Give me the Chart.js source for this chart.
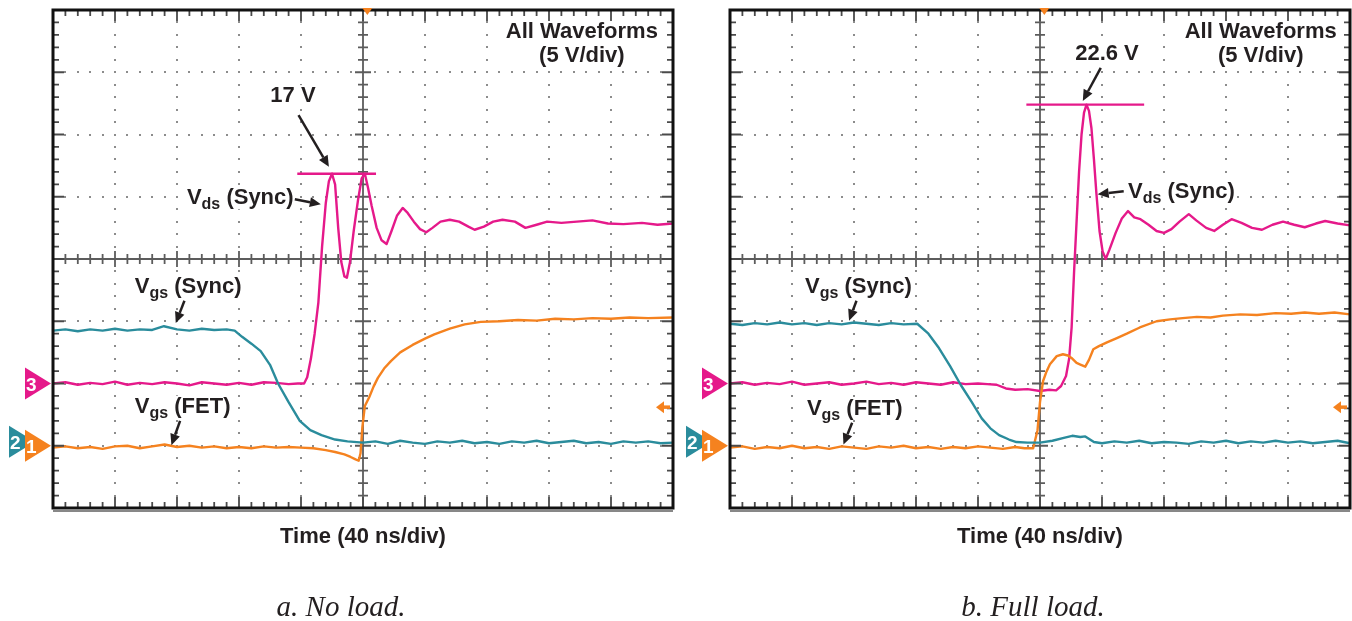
<!DOCTYPE html>
<html>
<head>
<meta charset="utf-8">
<script src="https://cdn.jsdelivr.net/npm/chart.js@4.4.1/dist/chart.umd.min.js"></script>
<style>
  body { margin: 0; background: #fff; width: 1352px; height: 621px; position: relative; overflow: hidden; }
  canvas { position: absolute; top: 0; }
  #noLoad { left: 0; }
  #fullLoad { left: 676px; }
  .cap { position: absolute; top: 592px; line-height: 29px; font-family: "Liberation Serif", serif;
         font-style: italic; font-size: 29px; color: #231f20; transform: translateX(-50%); white-space: nowrap; }
</style>
</head>
<body>
<canvas id="noLoad" width="676" height="621"></canvas>
<canvas id="fullLoad" width="676" height="621"></canvas>
<div class="cap" style="left:341px">a. No load.</div>
<div class="cap" style="left:1033px">b. Full load.</div>
<script>
// all values in scope divisions: time -5..5 (40 ns/div), volts -4..4 (5 V/div)

// a. no load
var noLoadVdsT = [-5, -4.8, -4.6, -4.4, -4.2, -4.0, -3.8, -3.6, -3.4, -3.2, -3.0, -2.8, -2.6, -2.4, -2.2, -2.0, -1.8, -1.6, -1.4, -1.2, -1.05, -0.95, -0.9, -0.84, -0.78, -0.72, -0.66, -0.6, -0.55, -0.5, -0.45, -0.4, -0.35, -0.3, -0.26, -0.21, -0.15, -0.08, -0.02, 0.03, 0.08, 0.14, 0.22, 0.3, 0.38, 0.46, 0.55, 0.64, 0.72, 0.82, 0.92, 1.02, 1.12, 1.25, 1.4, 1.55, 1.7, 1.8, 1.95, 2.1, 2.25, 2.45, 2.62, 2.8, 2.97, 3.2, 3.45, 3.7, 3.95, 4.2, 4.5, 4.75, 5];
var noLoadVdsV = [-2.0, -1.98, -2.02, -1.99, -2.01, -1.97, -2.02, -1.99, -2.01, -1.98, -2.0, -2.03, -1.98, -2.0, -2.02, -1.99, -2.02, -1.98, -1.99, -2.01, -2.0, -2.0, -1.9, -1.6, -1.2, -0.7, 0.2, 0.9, 1.25, 1.37, 1.2, 0.5, -0.05, -0.28, -0.3, -0.05, 0.45, 0.95, 1.3, 1.37, 1.15, 0.85, 0.5, 0.3, 0.24, 0.45, 0.7, 0.82, 0.74, 0.6, 0.48, 0.43, 0.5, 0.6, 0.63, 0.6, 0.52, 0.47, 0.52, 0.6, 0.63, 0.6, 0.5, 0.55, 0.6, 0.58, 0.6, 0.62, 0.57, 0.56, 0.58, 0.55, 0.57];

var noLoadSyncT = [-5, -4.8, -4.6, -4.4, -4.2, -4.0, -3.8, -3.6, -3.4, -3.21, -3.0, -2.8, -2.6, -2.4, -2.2, -2.07, -1.95, -1.8, -1.65, -1.5, -1.37, -1.2, -1.02, -0.85, -0.67, -0.45, -0.25, 0, 0.2, 0.4, 0.6, 0.8, 1.0, 1.2, 1.4, 1.6, 1.8, 2.0, 2.2, 2.4, 2.6, 2.8, 3.0, 3.2, 3.4, 3.6, 3.8, 4.0, 4.2, 4.4, 4.6, 4.8, 5];
var noLoadSyncV = [-1.15, -1.13, -1.16, -1.13, -1.15, -1.12, -1.15, -1.13, -1.14, -1.08, -1.13, -1.15, -1.12, -1.14, -1.13, -1.15, -1.25, -1.36, -1.48, -1.7, -2.0, -2.3, -2.6, -2.75, -2.83, -2.9, -2.93, -2.95, -2.93, -2.97, -2.92, -2.95, -2.97, -2.93, -2.95, -2.92, -2.96, -2.94, -2.97, -2.93, -2.95, -2.92, -2.96, -2.94, -2.92, -2.96, -2.94, -2.97, -2.93, -2.95, -2.93, -2.96, -2.95];

var noLoadFetT = [-5, -4.8, -4.6, -4.4, -4.2, -4.0, -3.8, -3.6, -3.4, -3.2, -3.0, -2.8, -2.6, -2.4, -2.2, -2.0, -1.8, -1.6, -1.4, -1.2, -1.0, -0.8, -0.6, -0.45, -0.3, -0.2, -0.12, -0.07, -0.04, -0.01, 0.03, 0.1, 0.17, 0.24, 0.34, 0.45, 0.6, 0.8, 1.0, 1.15, 1.4, 1.64, 1.9, 2.2, 2.5, 2.8, 3.1, 3.4, 3.7, 4.0, 4.3, 4.6, 5];
var noLoadFetV = [-3.03, -3.01, -3.04, -3.02, -3.05, -3.01, -3.0, -3.04, -3.01, -2.98, -3.02, -3.0, -3.03, -3.01, -3.04, -3.02, -3.04, -3.01, -3.03, -3.02, -3.03, -3.04, -3.07, -3.1, -3.14, -3.18, -3.22, -3.24, -3.12, -2.7, -2.36, -2.22, -2.05, -1.91, -1.76, -1.64, -1.5, -1.38, -1.28, -1.21, -1.12, -1.05, -1.01, -1.0, -0.98, -0.99, -0.96, -0.97, -0.95, -0.96, -0.94, -0.95, -0.94];

var noLoadPeakT = [-1.06, 0.21];
var noLoadPeakV = [1.37, 1.37];

// b. full load
var fullLoadVdsT = [-5, -4.8, -4.6, -4.4, -4.2, -4.0, -3.8, -3.6, -3.4, -3.2, -3.0, -2.8, -2.6, -2.4, -2.2, -2.0, -1.8, -1.6, -1.4, -1.2, -1.0, -0.85, -0.7, -0.55, -0.4, -0.2, 0.0, 0.15, 0.26, 0.34, 0.42, 0.47, 0.51, 0.55, 0.59, 0.63, 0.67, 0.71, 0.75, 0.79, 0.83, 0.87, 0.91, 0.96, 1.01, 1.06, 1.12, 1.22, 1.32, 1.42, 1.52, 1.62, 1.75, 1.88, 2.0, 2.12, 2.25, 2.4, 2.52, 2.68, 2.81, 2.95, 3.09, 3.25, 3.42, 3.58, 3.75, 3.92, 4.1, 4.27, 4.45, 4.6, 4.8, 5];
var fullLoadVdsV = [-2.0, -1.98, -2.02, -1.99, -2.01, -1.97, -2.02, -2.0, -1.98, -2.02, -2.0, -1.97, -2.01, -1.99, -2.02, -1.98, -2.0, -2.02, -1.98, -2.01, -2.0, -2.01, -2.02, -2.08, -2.1, -2.09, -2.12, -2.1, -2.11, -2.04, -1.88, -1.6, -1.1, -0.2, 0.6, 1.4, 2.0, 2.35, 2.48, 2.38, 2.1, 1.6, 1.05, 0.45, 0.12, 0.0, 0.15, 0.42, 0.65, 0.77, 0.67, 0.64, 0.55, 0.45, 0.42, 0.48, 0.6, 0.72, 0.62, 0.5, 0.45, 0.55, 0.64, 0.58, 0.5, 0.47, 0.55, 0.6, 0.55, 0.51, 0.57, 0.61, 0.57, 0.54];

var fullLoadSyncT = [-5, -4.8, -4.6, -4.4, -4.2, -4.0, -3.8, -3.6, -3.4, -3.2, -3.0, -2.8, -2.6, -2.4, -2.2, -1.98, -1.8, -1.63, -1.45, -1.28, -1.1, -0.94, -0.8, -0.66, -0.5, -0.38, -0.2, 0.0, 0.2, 0.4, 0.52, 0.65, 0.73, 0.87, 1.0, 1.2, 1.4, 1.6, 1.8, 2.0, 2.2, 2.4, 2.6, 2.8, 3.0, 3.2, 3.4, 3.6, 3.8, 4.0, 4.2, 4.4, 4.6, 4.8, 5];
var fullLoadSyncV = [-1.04, -1.06, -1.03, -1.05, -1.02, -1.05, -1.03, -1.06, -1.03, -1.05, -1.02, -1.04, -1.06, -1.03, -1.05, -1.04, -1.2, -1.43, -1.72, -2.02, -2.3, -2.56, -2.72, -2.83, -2.9, -2.94, -2.95, -2.95, -2.92, -2.87, -2.84, -2.86, -2.85, -2.94, -2.96, -2.93, -2.95, -2.92, -2.96, -2.94, -2.95, -2.97, -2.93, -2.95, -2.92, -2.96, -2.93, -2.95, -2.92, -2.95, -2.93, -2.96, -2.94, -2.92, -2.96];

var fullLoadFetT = [-5, -4.8, -4.6, -4.4, -4.2, -4.0, -3.8, -3.6, -3.4, -3.2, -3.0, -2.8, -2.6, -2.4, -2.2, -2.0, -1.8, -1.6, -1.4, -1.2, -1.0, -0.8, -0.6, -0.4, -0.25, -0.11, -0.04, 0.0, 0.05, 0.1, 0.16, 0.27, 0.37, 0.45, 0.52, 0.59, 0.66, 0.73, 0.79, 0.86, 0.95, 1.08, 1.24, 1.4, 1.61, 1.88, 2.1, 2.3, 2.53, 2.75, 2.95, 3.23, 3.5, 3.8, 4.05, 4.27, 4.5, 4.75, 5];
var fullLoadFetV = [-3.03, -3.01, -3.05, -3.02, -3.04, -3.0, -3.04, -3.02, -3.05, -3.01, -3.03, -3.05, -3.01, -3.03, -3.0, -3.04, -3.02, -3.05, -3.02, -3.04, -3.01, -3.03, -3.05, -3.02, -3.04, -3.04, -2.75, -2.3, -1.96, -1.82, -1.69, -1.56, -1.53, -1.55, -1.6, -1.67, -1.7, -1.73, -1.62, -1.45, -1.4, -1.34, -1.27, -1.2, -1.1, -1.0, -0.97, -0.95, -0.93, -0.94, -0.91, -0.89, -0.9, -0.87, -0.88, -0.86, -0.88, -0.86, -0.89];

var fullLoadPeakT = [-0.22, 1.68];
var fullLoadPeakV = [2.48, 2.48];

// channel ground markers (div), trigger position and level
var groundCh1 = -3, groundCh2 = -3, groundCh3 = -2;
var triggerT = 0.07, triggerV = -2.38;

var PINK = '#e5198a', TEAL = '#2a8c9c', ORANGE = '#f5821f', INK = '#231f20';
var FONT = '"Liberation Sans", Arial, sans-serif';

function pts(t, v) {
    return t.map(function (x, i) { return { x: x, y: v[i] }; });
}

function trace(t, v, color) {
    return { data: pts(t, v), borderColor: color, borderWidth: 2.4, pointRadius: 0, tension: 0, borderJoinStyle: 'round' };
}

function drawGrid(chart) {
    var ctx = chart.ctx, a = chart.chartArea, xs = chart.scales.x, ys = chart.scales.y;
    var i, k, px, py;
    ctx.save();
    // dotted division lines
    ctx.fillStyle = '#8c8c8c';
    for (i = -4; i <= 4; i++) {
        if (i === 0) continue;
        px = Math.round(xs.getPixelForValue(i));
        for (k = -19; k <= 19; k++) ctx.fillRect(px - 1, Math.round(ys.getPixelForValue(k / 5)) - 1, 2, 2);
    }
    for (i = -3; i <= 3; i++) {
        if (i === 0) continue;
        py = Math.round(ys.getPixelForValue(i));
        for (k = -24; k <= 24; k++) ctx.fillRect(Math.round(xs.getPixelForValue(k / 5)) - 1, py - 1, 2, 2);
    }
    // centre cross with tick marks
    var cx = xs.getPixelForValue(0), cy = ys.getPixelForValue(0);
    ctx.strokeStyle = '#5c5c5c';
    ctx.lineWidth = 1.8;
    ctx.beginPath();
    ctx.moveTo(a.left, cy); ctx.lineTo(a.right, cy);
    ctx.moveTo(cx, a.top); ctx.lineTo(cx, a.bottom);
    for (k = -25; k <= 25; k++) {
        px = xs.getPixelForValue(k / 5);
        var l = k % 5 === 0 ? 8 : 5;
        ctx.moveTo(px, cy - l); ctx.lineTo(px, cy + l);
    }
    for (k = -20; k <= 20; k++) {
        py = ys.getPixelForValue(k / 5);
        var m = k % 5 === 0 ? 8 : 5;
        ctx.moveTo(cx - m, py); ctx.lineTo(cx + m, py);
    }
    ctx.stroke();
    ctx.restore();
}

function drawFrame(chart) {
    var ctx = chart.ctx, a = chart.chartArea, xs = chart.scales.x, ys = chart.scales.y;
    var k, px, py, l;
    ctx.save();
    ctx.strokeStyle = '#4a4a4a';
    ctx.lineWidth = 1.8;
    ctx.beginPath();
    for (k = -24; k <= 24; k++) {
        px = xs.getPixelForValue(k / 5);
        l = k % 5 === 0 ? 11 : 6;
        ctx.moveTo(px, a.top); ctx.lineTo(px, a.top + l);
        ctx.moveTo(px, a.bottom); ctx.lineTo(px, a.bottom - l);
    }
    for (k = -19; k <= 19; k++) {
        py = ys.getPixelForValue(k / 5);
        l = k % 5 === 0 ? 11 : 6;
        ctx.moveTo(a.left, py); ctx.lineTo(a.left + l, py);
        ctx.moveTo(a.right, py); ctx.lineTo(a.right - l, py);
    }
    ctx.stroke();
    ctx.strokeStyle = '#111';
    ctx.lineWidth = 3;
    ctx.strokeRect(a.left, a.top, a.right - a.left, a.bottom - a.top);
    ctx.lineWidth = 1;
    ctx.beginPath();
    ctx.moveTo(a.left, a.bottom + 3); ctx.lineTo(a.right, a.bottom + 3);
    ctx.stroke();
    ctx.restore();
}

function chanMarker(ctx, xTip, y, color, label) {
    ctx.fillStyle = color;
    ctx.beginPath();
    ctx.moveTo(xTip - 26, y - 16);
    ctx.lineTo(xTip, y);
    ctx.lineTo(xTip - 26, y + 16);
    ctx.closePath();
    ctx.fill();
    ctx.fillStyle = '#fff';
    ctx.font = 'bold 19px ' + FONT;
    ctx.textAlign = 'left';
    ctx.textBaseline = 'middle';
    ctx.fillText(label, xTip - 25, y + 2);
}

function drawMarkers(chart) {
    var ctx = chart.ctx, a = chart.chartArea, xs = chart.scales.x, ys = chart.scales.y;
    ctx.save();
    // channel ground markers
    chanMarker(ctx, a.left - 18, ys.getPixelForValue(groundCh2) - 4, TEAL, '2');
    chanMarker(ctx, a.left - 2, ys.getPixelForValue(groundCh1), ORANGE, '1');
    chanMarker(ctx, a.left - 2, ys.getPixelForValue(groundCh3), PINK, '3');
    // trigger position marker on top edge
    var tx = xs.getPixelForValue(triggerT);
    ctx.fillStyle = ORANGE;
    ctx.beginPath();
    ctx.moveTo(tx - 5, a.top - 2); ctx.lineTo(tx + 5, a.top - 2); ctx.lineTo(tx, a.top + 5);
    ctx.closePath();
    ctx.fill();
    // trigger level arrow at right edge
    var ty = ys.getPixelForValue(triggerV);
    ctx.strokeStyle = ORANGE;
    ctx.lineWidth = 3.5;
    ctx.beginPath();
    ctx.moveTo(a.right - 3, ty); ctx.lineTo(a.right - 10, ty);
    ctx.stroke();
    ctx.beginPath();
    ctx.moveTo(a.right - 17, ty); ctx.lineTo(a.right - 9, ty - 6); ctx.lineTo(a.right - 9, ty + 6);
    ctx.closePath();
    ctx.fill();
    ctx.restore();
}

function arrow(ctx, x1, y1, x2, y2) {
    var ang = Math.atan2(y2 - y1, x2 - x1), h = 11, w = 5;
    var bx = x2 - h * Math.cos(ang), by = y2 - h * Math.sin(ang);
    ctx.beginPath();
    ctx.moveTo(x1, y1); ctx.lineTo(bx, by);
    ctx.stroke();
    ctx.beginPath();
    ctx.moveTo(x2, y2);
    ctx.lineTo(bx + w * Math.sin(ang), by - w * Math.cos(ang));
    ctx.lineTo(bx - w * Math.sin(ang), by + w * Math.cos(ang));
    ctx.closePath();
    ctx.fill();
}

function label(ctx, x, y, main, sub, rest, align) {
    var big = 'bold 22px ' + FONT, small = 'bold 16px ' + FONT;
    ctx.font = big;
    var w1 = ctx.measureText(main).width, w3 = ctx.measureText(rest).width;
    ctx.font = small;
    var w2 = sub ? ctx.measureText(sub).width : 0;
    var w = w1 + w2 + w3;
    var x0 = align === 'center' ? x - w / 2 : (align === 'right' ? x - w : x);
    ctx.fillStyle = '#fff';
    ctx.fillRect(x0 - 2, y - 17, w + 4, 22);
    ctx.fillStyle = INK;
    ctx.textAlign = 'left';
    ctx.textBaseline = 'alphabetic';
    ctx.font = big;
    ctx.fillText(main, x0, y);
    if (sub) {
        ctx.font = small;
        ctx.fillText(sub, x0 + w1, y + 5);
    }
    ctx.font = big;
    ctx.fillText(rest, x0 + w1 + w2, y);
}

function drawNotes(chart) {
    var ctx = chart.ctx, a = chart.chartArea, xs = chart.scales.x, ys = chart.scales.y;
    var notes = chart.options.plugins.scope.notes;
    ctx.save();
    ctx.strokeStyle = INK;
    ctx.fillStyle = INK;
    ctx.lineWidth = 2.5;
    notes.forEach(function (n) {
        label(ctx, xs.getPixelForValue(n.t), ys.getPixelForValue(n.v), n.main, n.sub, n.rest || '', n.align);
        if (n.arrow) {
            ctx.fillStyle = INK;
            arrow(ctx, xs.getPixelForValue(n.arrow[0]), ys.getPixelForValue(n.arrow[1]),
                xs.getPixelForValue(n.arrow[2]), ys.getPixelForValue(n.arrow[3]));
        }
    });
    // axis caption
    ctx.fillStyle = INK;
    ctx.font = 'bold 22px ' + FONT;
    ctx.textAlign = 'center';
    ctx.textBaseline = 'alphabetic';
    ctx.fillText('Time (40 ns/div)', (a.left + a.right) / 2, 543);
    ctx.restore();
}

var scopePlugin = {
    id: 'scope',
    beforeDatasetsDraw: function (chart) { drawGrid(chart); },
    afterDatasetsDraw: function (chart) {
        drawFrame(chart);
        drawMarkers(chart);
        drawNotes(chart);
    }
};

function makeScope(id, padLeft, padRight, sets, notes) {
    return new Chart(document.getElementById(id), {
        type: 'line',
        data: { datasets: sets },
        options: {
            responsive: false,
            animation: false,
            layout: { padding: { left: padLeft, right: padRight, top: 10, bottom: 113 } },
            scales: {
                x: { type: 'linear', min: -5, max: 5, display: false },
                y: { type: 'linear', min: -4, max: 4, display: false }
            },
            plugins: { legend: { display: false }, tooltip: { enabled: false }, scope: { notes: notes } }
        },
        plugins: [scopePlugin]
    });
}

makeScope('noLoad', 53, 3, [
    trace(noLoadSyncT, noLoadSyncV, TEAL),
    trace(noLoadFetT, noLoadFetV, ORANGE),
    trace(noLoadVdsT, noLoadVdsV, PINK),
    trace(noLoadPeakT, noLoadPeakV, PINK)
], [
    { t: 3.53, v: 3.55, main: 'All Waveforms', align: 'center' },
    { t: 3.53, v: 3.16, main: '(5 V/div)', align: 'center' },
    { t: -1.13, v: 2.52, main: '17 V', align: 'center', arrow: [-1.04, 2.31, -0.55, 1.48] },
    { t: -2.84, v: 0.88, main: 'V', sub: 'ds', rest: ' (Sync)', align: 'left', arrow: [-1.10, 0.96, -0.68, 0.88] },
    { t: -3.68, v: -0.55, main: 'V', sub: 'gs', rest: ' (Sync)', align: 'left', arrow: [-2.88, -0.67, -3.02, -1.03] },
    { t: -3.68, v: -2.47, main: 'V', sub: 'gs', rest: ' (FET)', align: 'left', arrow: [-2.95, -2.6, -3.09, -2.99] }
]);

makeScope('fullLoad', 54, 2, [
    trace(fullLoadSyncT, fullLoadSyncV, TEAL),
    trace(fullLoadFetT, fullLoadFetV, ORANGE),
    trace(fullLoadVdsT, fullLoadVdsV, PINK),
    trace(fullLoadPeakT, fullLoadPeakV, PINK)
], [
    { t: 3.56, v: 3.55, main: 'All Waveforms', align: 'center' },
    { t: 3.56, v: 3.16, main: '(5 V/div)', align: 'center' },
    { t: 1.08, v: 3.2, main: '22.6 V', align: 'center', arrow: [0.98, 3.07, 0.69, 2.54] },
    { t: 1.42, v: 0.98, main: 'V', sub: 'ds', rest: ' (Sync)', align: 'left', arrow: [1.35, 1.09, 0.93, 1.04] },
    { t: -3.79, v: -0.55, main: 'V', sub: 'gs', rest: ' (Sync)', align: 'left', arrow: [-2.96, -0.67, -3.08, -0.99] },
    { t: -3.76, v: -2.5, main: 'V', sub: 'gs', rest: ' (FET)', align: 'left', arrow: [-3.03, -2.63, -3.17, -2.98] }
]);
</script>
</body>
</html>
